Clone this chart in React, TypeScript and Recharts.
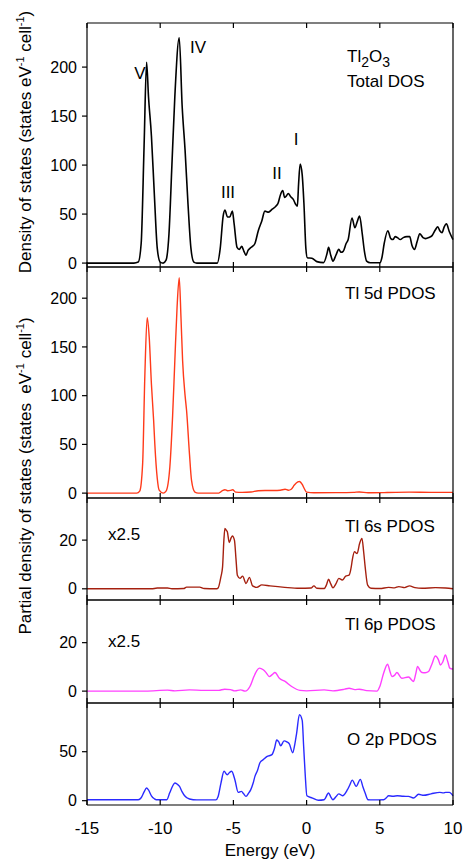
import React from 'react';
import { LineChart, Line, XAxis, YAxis } from 'recharts';

// energy grid (eV) and values
const totalEnergy = [-15, -11.8, -11.5, -11.3, -11.1, -10.93, -10.8, -10.6, -10.4, -10.2, -10.0, -9.8, -9.6, -9.4, -9.2, -9.0, -8.7, -8.5, -8.3, -8.1, -7.9, -7.7, -7.5, -6.1, -5.9, -5.7, -5.58, -5.4, -5.25, -5.07, -4.95, -4.75, -4.6, -4.43, -4.28, -4.14, -4.0, -3.87, -3.7, -3.53, -3.3, -3.06, -2.85, -2.6, -2.35, -2.1, -1.95, -1.78, -1.63, -1.5, -1.41, -1.25, -1.1, -0.91, -0.75, -0.63, -0.55, -0.44, -0.3, -0.18, -0.05, 0.05, 0.36, 0.7, 1.16, 1.4, 1.5, 1.65, 1.8, 2.0, 2.2, 2.35, 2.5, 2.7, 2.84, 3.1, 3.3, 3.45, 3.62, 3.8, 3.95, 4.1, 4.35, 5.0, 5.15, 5.3, 5.55, 5.75, 5.9, 6.05, 6.2, 6.4, 6.6, 6.85, 7.04, 7.2, 7.37, 7.55, 7.73, 7.95, 8.12, 8.35, 8.57, 8.8, 8.96, 9.1, 9.25, 9.4, 9.55, 9.75, 10];
const totalDos = [0, 0, 1, 20, 120, 205, 170, 130, 70, 15, 1, 0, 3, 30, 100, 170, 230, 160, 115, 60, 15, 1, 0, 0, 15, 48, 54, 47, 47, 53, 40, 16, 14, 17, 12, 8, 13, 15, 17, 20, 33, 43, 53, 52, 55, 58, 61, 70, 74, 67, 68, 71, 68, 65, 60, 58, 80, 101, 90, 60, 15, 5.5, 5, 1.5, 0.5, 10, 16, 8, 2, 8, 14, 11, 12, 20, 24, 46, 36, 42, 48, 30, 12, 2, 0.3, 0.3, 6, 20, 33, 25, 24, 27, 26, 24, 26, 27, 27, 18, 14, 22, 30, 26, 25, 26, 28, 34, 37, 33, 31, 37, 40, 32, 24];

const tl5dEnergy = [-15, -11.6, -11.4, -11.2, -11.05, -10.89, -10.75, -10.6, -10.45, -10.37, -10.2, -10.07, -9.8, -9.6, -9.34, -9.15, -9.0, -8.85, -8.7, -8.58, -8.47, -8.3, -8.2, -8.0, -7.86, -7.63, -7.4, -6.0, -5.75, -5.58, -5.4, -5.2, -5.05, -4.85, -4.4, -3.8, -3.3, -2.5, -1.8, -1.47, -1.25, -1.05, -0.85, -0.6, -0.49, -0.3, -0.17, 0, 0.5, 2, 3.2, 3.6, 4.2, 5.5, 7, 8.5, 10];
const tl5dDos = [0, 0, 2, 30, 120, 180, 160, 112, 75, 51, 15, 3, 0, 2, 27, 80, 136, 190, 221, 180, 136, 100, 85, 40, 13, 1, 0, 0, 2.5, 3.5, 2.5, 2.8, 3.5, 1, 0.8, 1.2, 2.5, 2.7, 3, 4, 3, 4, 8, 11.5, 12, 9, 5, 1, 0.4, 0.5, 0.8, 1.2, 0.4, 0.6, 1, 0.8, 0.8];

const tl6sEnergy = [-15, -10.6, -10.2, -9.5, -9.2, -8.4, -8.2, -7.3, -7.0, -6.2, -6.05, -5.85, -5.74, -5.65, -5.58, -5.48, -5.42, -5.28, -5.15, -5.07, -4.93, -4.82, -4.73, -4.55, -4.37, -4.14, -3.91, -3.69, -3.4, -3.06, -2.5, -1.5, -0.5, 0.3, 0.5, 0.7, 1.2, 1.35, 1.5, 1.65, 1.8, 2.0, 2.2, 2.44, 2.67, 2.9, 3.05, 3.12, 3.27, 3.45, 3.62, 3.78, 3.9, 4.0, 4.17, 4.4, 5.0, 5.6, 6.0, 6.3, 6.7, 7.03, 7.4, 7.9, 8.8, 9.5, 10];
const tl6sDos = [0, 0, 0.3, 0.3, 0, 0.1, 0.7, 0.7, 0.1, 0, 0.3, 5, 9, 20, 24.8, 24, 23.5, 19, 21, 21.7, 20, 12, 5.6, 4.3, 5.2, 2.2, 4.7, 1.2, 0.6, 1.6, 1.2, 0.6, 0.2, 0.3, 1.2, 0.2, 0.1, 1.5, 3.9, 2, 0.4, 2, 4.3, 3.6, 5.2, 5.6, 9, 11.8, 15.2, 14.5, 18.6, 20.7, 15, 9, 1.5, 0.2, 0.1, 0.6, 0.4, 0.9, 0.5, 1.2, 0.5, 0.2, 0.5, 0.3, 0];

const tl6pEnergy = [-15, -11, -9.5, -9, -8, -7, -6, -5.6, -5.2, -4.9, -4.5, -4.2, -3.87, -3.6, -3.4, -3.23, -2.96, -2.75, -2.55, -2.35, -2.16, -1.86, -1.47, -1.02, -0.45, 0, 1.2, 1.8, 2.6, 2.9, 3.3, 3.6, 4.1, 4.8, 5.0, 5.26, 5.53, 5.7, 5.83, 6.0, 6.17, 6.5, 6.96, 7.3, 7.45, 7.58, 7.75, 7.88, 8.1, 8.33, 8.55, 8.8, 9.0, 9.14, 9.3, 9.48, 9.65, 9.78, 10];
const tl6pDos = [0, 0, 0.4, 0.1, 0.5, 0.3, 0.3, 0.8, 0.6, 0.1, 0.5, 0, 1.9, 6, 8.5, 9.5, 8.8, 7.5, 6, 6.8, 7.7, 5.3, 4, 1.9, 0.3, 0.1, 0.5, 0.1, 0.8, 1.2, 0.6, 0.8, 0.2, 0, 1.9, 7.4, 11.1, 8, 6, 6.5, 7.7, 5.3, 5.8, 4, 7, 10.2, 8.5, 7.7, 7.6, 8.1, 11, 14.5, 13, 10.8, 12, 14.9, 12, 9.5, 9.1];

const o2pEnergy = [-15, -11.5, -11.3, -11.1, -10.93, -10.8, -10.6, -10.4, -10.26, -9.55, -9.35, -9.15, -9.0, -8.85, -8.68, -8.5, -8.33, -8.0, -7.5, -6.2, -6.05, -5.85, -5.64, -5.42, -5.25, -5.12, -4.9, -4.67, -4.45, -4.3, -4.14, -3.95, -3.82, -3.65, -3.53, -3.35, -3.18, -2.95, -2.72, -2.37, -2.2, -2.04, -1.9, -1.77, -1.54, -1.35, -1.18, -0.95, -0.8, -0.68, -0.49, -0.3, -0.2, -0.1, 0.02, 0.4, 0.8, 1.2, 1.5, 1.65, 1.8, 2.0, 2.2, 2.45, 2.78, 2.95, 3.12, 3.39, 3.67, 3.85, 4.0, 4.2, 4.5, 5.26, 5.45, 5.6, 5.9, 6.2, 6.6, 6.96, 7.3, 7.65, 8.0, 8.5, 9.1, 9.35, 9.5, 9.75, 10];
const o2pDos = [1, 1, 3, 9, 13, 11, 5, 2, 1, 1, 8, 15, 18, 17, 14.6, 9, 5, 1.7, 0.8, 0.8, 4, 18, 30, 26.5, 29, 30, 21.4, 8.5, 9.5, 7, 4.4, 8, 11, 18, 24.8, 31, 39, 42, 45, 47, 53, 62, 60, 56, 61, 60, 58, 49, 58, 69, 87.8, 82, 55, 28, 5, 2.7, 0.5, 1, 7.8, 4, 1, 4, 7, 5, 11, 16, 21, 14.6, 21.8, 14, 7.8, 1, 0.8, 1, 3, 5, 4.5, 5, 4.5, 4.4, 2.7, 6.5, 5.5, 7, 8.5, 8, 8.5, 8.5, 5];

const energyTicks = [-15, -10, -5, 0, 5, 10];

const W = 464;
const H = 859;
const PLOT_LEFT = 87;
const PLOT_RIGHT = 453;
const Y_AXIS_W = 60;
const FONT = 'Liberation Sans, Arial, Helvetica, sans-serif';
const AX = { stroke: '#000', strokeWidth: 1.2 };
const noLabel = () => <g />;

const rows = (e: number[], v: number[]) => e.map((x, i) => ({ e: x, v: v[i] }));

type PanelProps = {
  data: { e: number; v: number }[];
  color: string;
  top: number;
  bottom: number;
  domain: [number, number];
  ticks: number[];
  width?: number;
  last?: boolean;
};

const Panel = ({ data, color, top, bottom, domain, ticks, width = 1.4, last }: PanelProps) => {
  const pad = 10;
  const chartTop = top - pad;
  const chartH = (last ? H : bottom + pad) - chartTop;
  return (
    <div style={{ position: 'absolute', left: 0, top: chartTop }}>
      <LineChart
        width={W}
        height={chartH}
        data={data}
        margin={{ top: pad, right: W - PLOT_RIGHT, bottom: last ? 0 : pad, left: PLOT_LEFT - Y_AXIS_W }}
      >
        <XAxis xAxisId="b" dataKey="e" type="number" domain={[-15, 10]} ticks={energyTicks}
          orientation="bottom" mirror height={1} tick={noLabel} tickSize={5} axisLine={AX} tickLine={AX} />
        <XAxis xAxisId="t" dataKey="e" type="number" domain={[-15, 10]} ticks={energyTicks}
          orientation="top" mirror height={1} tick={noLabel} tickSize={5} axisLine={AX} tickLine={AX} />
        {last && (
          <XAxis xAxisId="lbl" dataKey="e" type="number" domain={[-15, 10]} ticks={energyTicks}
            orientation="bottom" height={H - bottom} axisLine={false} tickLine={false} tickSize={0} tickMargin={17}
            tick={{ fontSize: 17, fill: '#000', fontFamily: FONT }}
            label={{ value: 'Energy (eV)', position: 'insideBottom', offset: 3, fontSize: 17, fill: '#000', fontFamily: FONT }} />
        )}
        <YAxis yAxisId="l" type="number" domain={domain} ticks={ticks} width={Y_AXIS_W}
          tickSize={5} tickMargin={5} axisLine={AX} tickLine={AX}
          tick={{ fontSize: 16, fill: '#000', fontFamily: FONT }} />
        <YAxis yAxisId="r" type="number" domain={domain} ticks={ticks} orientation="right"
          mirror width={1} tick={noLabel} tickSize={5} axisLine={AX} tickLine={AX} />
        <Line xAxisId="b" yAxisId="l" type="monotone" dataKey="v" stroke={color} strokeWidth={width}
          dot={false} isAnimationActive={false} />
      </LineChart>
    </div>
  );
};

const sup = (s: string) => (
  <tspan fontSize={11} dy={-7}>{s}</tspan>
);

export default function App() {
  const t = { fontSize: 17, fill: '#000', fontFamily: FONT };
  return (
    <div style={{ position: 'absolute', left: 0, top: 0, width: W, height: H, background: '#fff' }}>
      <Panel data={rows(totalEnergy, totalDos)} color="#000" top={23} bottom={267} domain={[-4, 245]} ticks={[0, 50, 100, 150, 200]} width={1.6} />
      <Panel data={rows(tl5dEnergy, tl5dDos)} color="#ff3a1a" top={267} bottom={498} domain={[-5, 232]} ticks={[0, 50, 100, 150, 200]} />
      <Panel data={rows(tl6sEnergy, tl6sDos)} color="#a5200f" top={498} bottom={600} domain={[-4.6, 37.3]} ticks={[0, 20]} />
      <Panel data={rows(tl6pEnergy, tl6pDos)} color="#ff40ff" top={600} bottom={703} domain={[-4.9, 37.6]} ticks={[0, 20]} />
      <Panel data={rows(o2pEnergy, o2pDos)} color="#2a2aff" top={703} bottom={805} domain={[-4.4, 99.7]} ticks={[0, 50]} last />

      <svg width={W} height={H} style={{ position: 'absolute', left: 0, top: 0, pointerEvents: 'none' }}>
        <text transform="rotate(-90 31 142)" x={31} y={142} textAnchor="middle" {...t}>
          Density of states (states eV{sup('-1')}<tspan dy={7}> cell</tspan>{sup('-1')}<tspan dy={7}>)</tspan>
        </text>
        <text transform="rotate(-90 31 476)" x={31} y={476} textAnchor="middle" style={{ whiteSpace: 'pre' }} {...t}>
          Partial density of states (states  eV{sup('-1')}<tspan dy={7}> cell</tspan>{sup('-1')}<tspan dy={7}>)</tspan>
        </text>

        <text x={140} y={79} textAnchor="middle" {...t}>V</text>
        <text x={198} y={53} textAnchor="middle" {...t}>IV</text>
        <text x={228} y={198} textAnchor="middle" {...t}>III</text>
        <text x={277} y={179} textAnchor="middle" {...t}>II</text>
        <text x={296} y={145} textAnchor="middle" {...t}>I</text>

        <text x={347} y={62} {...t}>Tl<tspan fontSize={14} dy={5}>2</tspan><tspan dy={-5}>O</tspan><tspan fontSize={14} dy={5}>3</tspan></text>
        <text x={347} y={87} {...t}>Total DOS</text>
        <text x={345} y={299} {...t}>Tl 5d PDOS</text>
        <text x={345} y={532} {...t}>Tl 6s PDOS</text>
        <text x={345} y={630} {...t}>Tl 6p PDOS</text>
        <text x={347} y={745} {...t}>O 2p PDOS</text>
        <text x={108} y={540} {...t}>x2.5</text>
        <text x={108} y={647} {...t}>x2.5</text>
      </svg>
    </div>
  );
}
